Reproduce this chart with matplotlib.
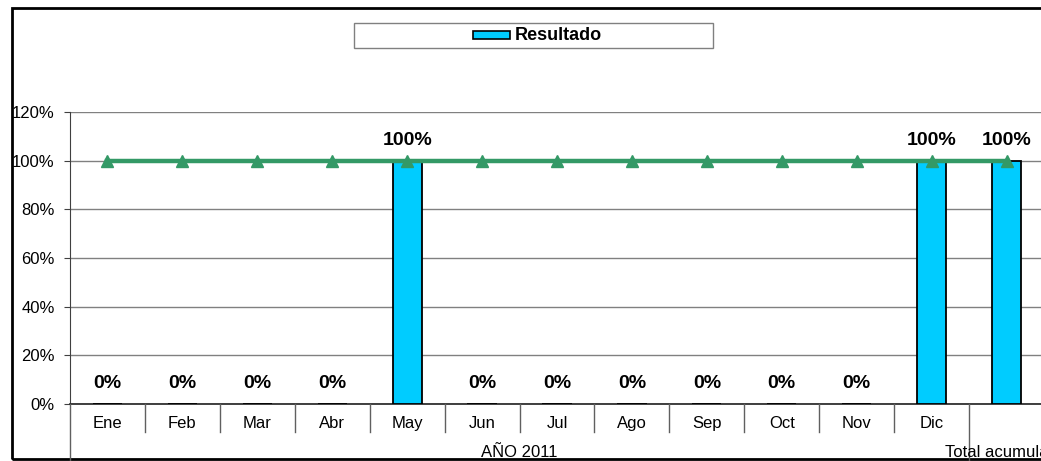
import matplotlib
matplotlib.use("Agg")
import matplotlib.pyplot as plt
from matplotlib.patches import Rectangle
from matplotlib.lines import Line2D

plt.rcParams['font.family'] = ['Liberation Sans', 'DejaVu Sans']

months = ["Ene", "Feb", "Mar", "Abr", "May", "Jun", "Jul", "Ago", "Sep", "Oct", "Nov", "Dic"]
group_labels = ["AÑO 2011", "Total acumulado"]
resultado = [0, 0, 0, 0, 1.0, 0, 0, 0, 0, 0, 0, 1.0, 1.0]
meta = [1.0] * 13
yticks = [0, 0.2, 0.4, 0.6, 0.8, 1.0, 1.2]
ytick_labels = ["0%", "20%", "40%", "60%", "80%", "100%", "120%"]

W, H = 1041, 461
fig = plt.figure(figsize=(W / 100, H / 100), dpi=100)

def fx(px):
    return px / W

def fy(py):
    return 1 - py / H

# outer chart border
fig.patches.append(Rectangle((fx(12), fy(459)), fx(1100) - fx(12), fy(8) - fy(459),
                             transform=fig.transFigure, fill=False, edgecolor='black',
                             linewidth=2, zorder=0))

AX_L, AX_R = 70, 1044
ax = fig.add_axes([fx(AX_L), fy(404), fx(AX_R) - fx(AX_L), fy(112) - fy(404)])
n = len(resultado)
x = list(range(n))
ax.set_xlim(-0.5, n - 0.5)
ax.set_ylim(0, 1.2)

ax.bar(x, resultado, width=0.39, color='#00CCFF', edgecolor='black', linewidth=1.3, zorder=3)
ax.plot(x, meta, color='#339966', linewidth=3.2, marker='^', markersize=8,
        markerfacecolor='#339966', markeredgecolor='#339966', zorder=4, clip_on=False)

for xi, v in zip(x, resultado):
    ax.annotate(f"{v * 100:.0f}%", (xi, v), xytext=(0, 14.5), textcoords='offset points',
                ha='center', va='center', fontsize=14, fontweight='bold', zorder=5,
                annotation_clip=False)

ax.set_yticks(yticks)
ax.set_yticklabels(ytick_labels, fontsize=12)
ax.yaxis.grid(True, color='#808080', linewidth=1)
ax.set_axisbelow(True)
ax.tick_params(axis='y', length=4, pad=7, color='#404040')
ax.set_xticks([])
for s in ['top', 'right']:
    ax.spines[s].set_visible(False)
ax.spines['left'].set_color('#404040')
ax.spines['bottom'].set_color('#202020')
ax.spines['bottom'].set_linewidth(1.2)

def data_x_to_fig(xd):
    x0, x1 = ax.get_xlim()
    return fx(AX_L) + (xd - x0) / (x1 - x0) * (fx(AX_R) - fx(AX_L))

# multi-level category axis
for i, m in enumerate(months):
    fig.text(data_x_to_fig(i), fy(423), m, ha='center', va='center', fontsize=12)

for b in range(0, 11):
    xb = data_x_to_fig(b + 0.5)
    fig.add_artist(Line2D([xb, xb], [fy(404), fy(432)], transform=fig.transFigure,
                          color='#606060', linewidth=1))
for b in [-0.5, 11.5]:
    xb = data_x_to_fig(b)
    fig.add_artist(Line2D([xb, xb], [fy(404), fy(461)], transform=fig.transFigure,
                          color='#606060', linewidth=1))

fig.text(data_x_to_fig(5.5), fy(452), group_labels[0], ha='center', va='center', fontsize=12)
fig.text(data_x_to_fig(12), fy(452), group_labels[1], ha='center', va='center', fontsize=12)

# legend box
fig.patches.append(Rectangle((fx(354), fy(48)), fx(713) - fx(354), fy(23) - fy(48),
                             transform=fig.transFigure, facecolor='white', edgecolor='#808080',
                             linewidth=1, zorder=2))
fig.patches.append(Rectangle((fx(473), fy(39)), fx(510) - fx(473), fy(31) - fy(39),
                             transform=fig.transFigure, facecolor='#00CCFF', edgecolor='black',
                             linewidth=1.2, zorder=3))
fig.text(fx(515), fy(35.5), "Resultado", ha='left', va='center', fontsize=13, fontweight='bold',
         zorder=4)

fig.savefig("out.png", dpi=100)
